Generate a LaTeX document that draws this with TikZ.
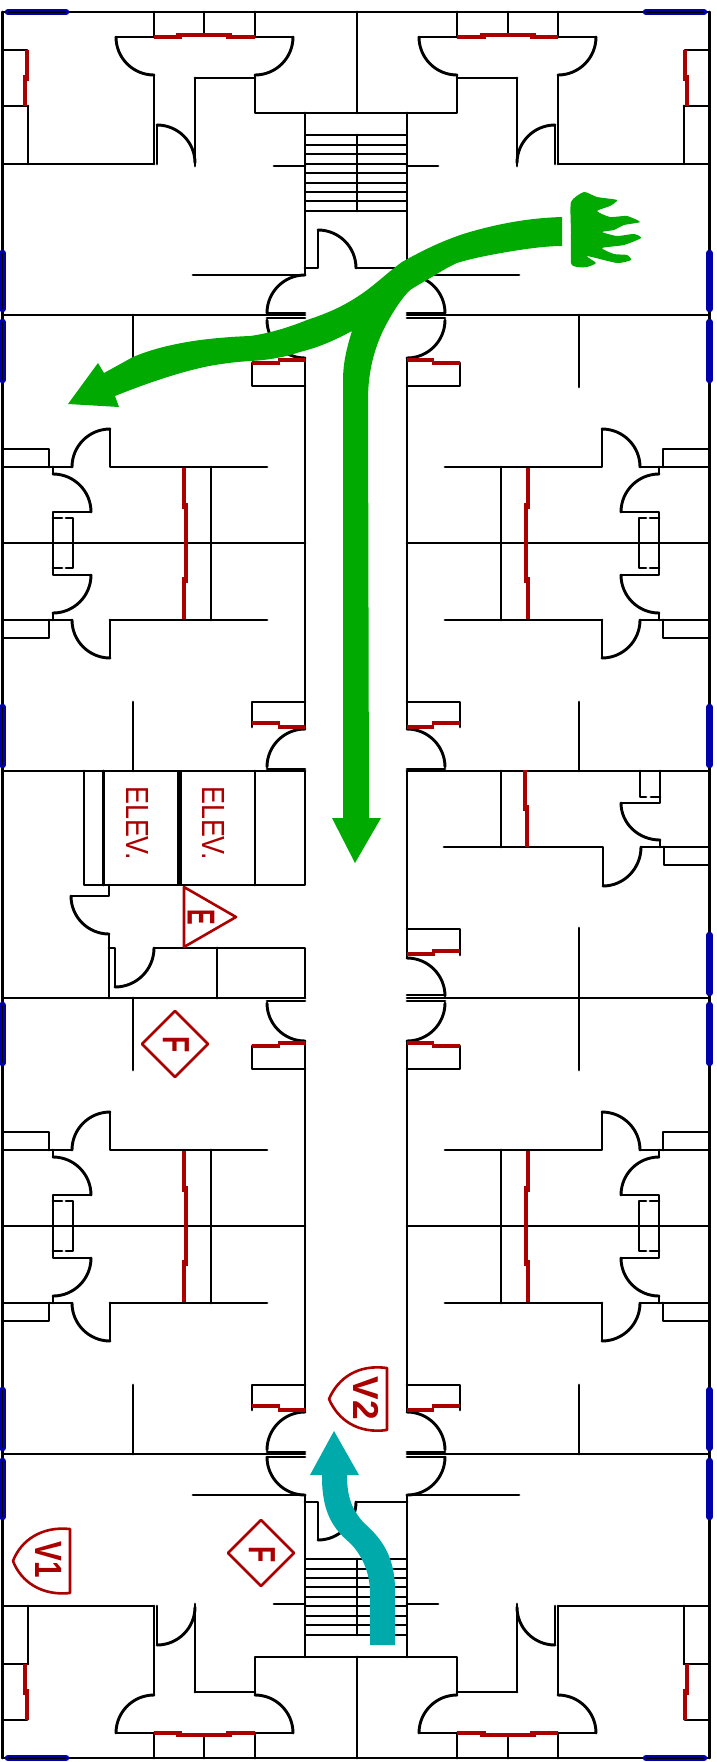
\documentclass[tikz,border=0pt]{standalone}
\usepackage{graphicx}
\usepackage{fontspec}
\setmainfont{Liberation Sans}
\usetikzlibrary{calc}
\definecolor{signred}{RGB}{170,0,0}
\definecolor{winblue}{RGB}{0,0,170}
\definecolor{exitgreen}{RGB}{0,170,0}
\definecolor{teal2}{RGB}{0,170,170}
\tikzset{
  wall/.style={draw=black,line width=2.9pt,line cap=round,line join=round},
  thickwall/.style={draw=black,line width=4.5pt},
  redline/.style={draw=signred,line width=3.4pt},
  window/.style={draw=winblue,line width=6.5pt,line cap=round},
  windowcore/.style={draw=black,line width=1.6pt},
  signline/.style={draw=signred,line width=2.6pt,line join=round},
  signtext/.style={text=signred,inner sep=0pt,rotate=-90},
  xmirror/.style={shift={(712,0)},xscale=-1},
  ymirror/.style={shift={(0,1770)},yscale=-1},
}
\newcommand\qa[3]{\draw[wall] (#1) .. controls ($(#1)!.552!(#2)$) and ($(#3)!.552!(#2)$) .. (#3);}
\newcommand\win[2]{\draw[window] (#1) -- (#2);\draw[windowcore] (#1) -- (#2);}
% corner unit: left half, mirrored to the other three corners
\newcommand\unitHalf{
  \draw[wall] (2.5,12) -- (356,12);
  \draw[wall] (2.5,12) -- (2.5,315);
  \draw[wall] (154,12) -- (154,37);
  \draw[wall] (204,12) -- (204,35);
  \draw[wall] (255,12) -- (255,37);
  \draw[wall] (116,37) -- (154,37);
  \draw[wall] (255,37) -- (293,37);
  \qa{116,37}{116,75}{154,75}
  \qa{293,37}{293,75}{255,75}
  \draw[wall] (154,75) -- (154,164);
  \draw[wall] (255,75) -- (255,113) -- (356,113);
  \draw[wall] (195,78) -- (255,78);
  \draw[wall] (195,78) -- (195,166);
  \draw[wall] (157,125) -- (157,164);
  \qa{157,125}{195,125}{195,163}
  \draw[wall] (2.5,50) -- (27,50);
  \draw[wall] (2.5,106) -- (28,106);
  \draw[wall] (28,106) -- (28,164);
  \draw[wall] (2.5,164) -- (154,164);
  \draw[wall] (305,113) -- (305,275);
  \draw[wall] (193,275) -- (305,275);
  \draw[wall] (274,166) -- (305,166);
  \qa{305,275}{267,275}{267,313}
  \draw[wall] (267,313) -- (305,313);
  \draw[redline] (154,37) -- (182,37);
  \draw[redline] (176,35) -- (232,35);
  \draw[redline] (226,37) -- (255,37);
  \draw[redline] (27,50) -- (27,81);
  \draw[redline] (25,75) -- (25,106);
  \win{8,12}{66,12}
  \win{2.5,253}{2.5,309}
}
% stairs and centre walls, once per end
\newcommand\stairs{
  \draw[wall] (357,12) -- (357,113);
  \draw[wall] (305,268) -- (318,268) -- (318,230);
  \qa{318,230}{356,230}{356,268}
  \draw[wall] (356,268) -- (407,268);
  \foreach \yy in {135,145,154,164,173,183,192,201,211}{\draw[wall] (306,\yy) -- (406,\yy);}
  \draw[wall] (357,135) -- (357,211);
}
% guest-room bay: left half
\newcommand\roomHalf{
  \draw[wall] (2.5,315) -- (2.5,771);
  \draw[wall] (2.5,315) -- (305,315);
  \draw[wall] (2.5,771) -- (305,771);
  \qa{267,320}{267,358}{305,358}
  \draw[wall] (267,318) -- (305,318);
  \draw[wall] (305,358) -- (305,729);
  \draw[wall] (252,363) -- (252,386) -- (305,386);
  \draw[wall] (252,727) -- (252,702) -- (305,702);
  \qa{305,729}{267,729}{267,767}
  \draw[wall] (267,769) -- (305,769);
  \draw[wall] (133,315) -- (133,387);
  \draw[wall] (133,702) -- (133,771);
  \draw[wall] (2.5,449) -- (49,449) -- (49,467);
  \draw[wall] (2.5,467) -- (72,467);
  \qa{72,467}{72,429}{110,429}
  \draw[wall] (110,429) -- (110,467) -- (267,467);
  \draw[wall] (211,467) -- (211,620);
  \draw[wall] (110,620) -- (267,620);
  \draw[wall] (2.5,620) -- (72,620);
  \draw[wall] (49,620) -- (49,638) -- (2.5,638);
  \qa{72,620}{72,658}{110,658}
  \draw[wall] (110,620) -- (110,658);
  \draw[wall] (2.5,543) -- (305,543);
  \draw[wall] (53,467) -- (53,474);
  \qa{53,474}{91,474}{91,512}
  \draw[wall] (91,512) -- (53,512) -- (53,575) -- (91,575);
  \qa{91,575}{91,613}{53,613}
  \draw[wall] (53,613) -- (53,620);
  \draw[wall] (53,518) -- (62,518);
  \draw[wall] (66,518) -- (73,518) -- (73,568) -- (66,568);
  \draw[wall] (53,568) -- (62,568);
  \draw[redline] (252,363) -- (280,363);
  \draw[redline] (278,360) -- (305,360);
  \draw[redline] (252,723) -- (280,723);
  \draw[redline] (278,727) -- (305,727);
  \draw[redline] (184,468) -- (184,509);
  \draw[redline] (186,503) -- (186,583);
  \draw[redline] (184,577) -- (184,619);
  \win{2.5,322}{2.5,380}
  \win{2.5,707}{2.5,765}
}
\begin{document}
\begin{tikzpicture}[x=1pt,y=-1pt]
\useasboundingbox (0,0) rectangle (717,1762);
\fill[white] (0,0) rectangle (717,1762);
% four corner units
\unitHalf
\begin{scope}[xmirror]\unitHalf\end{scope}
\begin{scope}[ymirror]\unitHalf\end{scope}
\begin{scope}[ymirror]\begin{scope}[xmirror]\unitHalf\end{scope}\end{scope}
\stairs
\begin{scope}[ymirror]\stairs\end{scope}
% four room bays
\roomHalf
\begin{scope}[xmirror]\roomHalf\end{scope}
\begin{scope}[shift={(0,683)}]\roomHalf\end{scope}
\begin{scope}[shift={(0,683)}]\begin{scope}[xmirror]\roomHalf\end{scope}\end{scope}
% left middle section: elevators
\draw[wall] (2.5,771) -- (2.5,998);
\draw[wall] (84,771) -- (84,885) -- (305,885) -- (305,771);
\draw[wall] (103.5,771) -- (103.5,885);
\draw[thickwall] (179.5,771) -- (179.5,885);
\draw[wall] (255,771) -- (255,885);
\draw[wall] (109,885) -- (109,896) -- (71,896);
\qa{71,896}{71,934}{109,934}
\draw[wall] (109,934) -- (109,998);
\draw[wall] (109,948) -- (115,948) -- (115,987);
\qa{115,987}{154,987}{154,948}
\draw[wall] (154,948) -- (305,948) -- (305,998);
\draw[wall] (217,948) -- (217,998);
% right middle section
\draw[wall] (709.5,771) -- (709.5,998);
\win{709.5,935}{709.5,993}
\draw[wall] (407,771) -- (407,958);
\draw[wall] (579,928) -- (579,998);
\draw[wall] (407,929) -- (460,929) -- (460,955);
\qa{407,958}{445,958}{445,996}
\draw[wall] (407,995) -- (445,995);
\draw[wall] (501,771) -- (501,847);
\draw[wall] (444,847) -- (603,847) -- (603,886);
\qa{603,886}{641,886}{641,847}
\draw[wall] (641,847) -- (709.5,847);
\draw[wall] (664,847) -- (664,865) -- (709.5,865);
\draw[wall] (660,847) -- (660,840);
\qa{660,840}{621,840}{621,803}
\draw[wall] (621,803) -- (660,803) -- (660,771);
\draw[wall] (640,771) -- (640,797) -- (646,797);
\draw[wall] (651,797) -- (660,797);
\draw[redline] (525,770) -- (525,811);
\draw[redline] (527,805) -- (527,847);
\draw[redline] (407,954) -- (435,954);
\draw[redline] (432,951) -- (460,951);
% signs
\draw[signline] (184,887) -- (184,947) -- (236,917) -- cycle;
\draw[signline] (175,1011) -- (208,1044) -- (175,1077) -- (142,1044) -- cycle;
\draw[signline] (261,1520) -- (294,1553) -- (261,1586) -- (228,1553) -- cycle;
\draw[signline] (70,1529) .. controls (42,1526) and (21,1540) .. (13,1561) .. controls (21,1582) and (42,1596) .. (70,1593) -- cycle;
\draw[signline] (387,1368) .. controls (358,1364) and (338,1378) .. (329,1399) .. controls (338,1420) and (358,1434) .. (387,1430) -- cycle;
\node[signtext] (elevA) at (138,823) {\fontsize{32}{32}\selectfont\scalebox{0.84}[1]{ELEV.}};
\node[signtext] (elevB) at (214,823) {\fontsize{32}{32}\selectfont\scalebox{0.84}[1]{ELEV.}};
\node[signtext] (signE) at (201,917) {\fontsize{39}{39}\selectfont\bfseries\scalebox{0.6}[1]{E}};
\node[signtext] (signFa) at (176,1045) {\fontsize{38}{38}\selectfont\bfseries\scalebox{0.7}[1]{F}};
\node[signtext] (signFb) at (262,1555) {\fontsize{38}{38}\selectfont\bfseries\scalebox{0.7}[1]{F}};
\node[signtext] (signVa) at (48.5,1560) {\fontsize{38}{38}\selectfont\bfseries\scalebox{0.78}[1]{V1}};
\node[signtext] (signVb) at (366,1398.5) {\fontsize{36}{36}\selectfont\bfseries\scalebox{0.98}[1]{V2}};
% green escape arrows
\fill[exitgreen] (562,217) .. controls (530,218) and (503,223) .. (477,230)
  .. controls (450,237) and (425,249) .. (402,262)
  .. controls (388,272) and (373,287) .. (357,297)
  .. controls (340,308) and (325,314) .. (307,320)
  .. controls (285,329) and (265,334) .. (250,336)
  .. controls (225,337) and (205,339) .. (187,342)
  .. controls (165,346) and (150,350) .. (133,357)
  -- (104,373) -- (98,363) -- (68,404) -- (119,407) -- (115,396)
  .. controls (140,386) and (170,375) .. (200,368)
  .. controls (217,364) and (235,362) .. (250,361)
  .. controls (270,360) and (285,357) .. (300,352)
  .. controls (320,347) and (335,340) .. (352,331)
  .. controls (346,350) and (343,365) .. (343,380)
  -- (343,818) -- (332,818) -- (355,863) -- (381,818) -- (369,818) -- (368,400)
  .. controls (368,370) and (375,345) .. (387,323)
  .. controls (394,310) and (402,298) .. (410,290)
  .. controls (418,285) and (425,281) .. (432,277)
  .. controls (440,272) and (448,267) .. (457,263)
  .. controls (473,258) and (490,255) .. (507,252)
  .. controls (525,249) and (545,246) .. (562,246) -- cycle;
\fill[exitgreen] plot[smooth cycle,tension=0.35] coordinates {
  (571,202) (584,192) (597,197) (617,200) (610,206) (597,211) (610,217) (627,216)
  (640,222) (624,225) (614,230) (602,232) (617,236) (634,234) (641,238) (624,245)
  (602,248) (614,254) (627,255) (631,260) (617,263) (587,256) (596,263) (587,267)
  (577,267) (571,263) (571,232)};
% teal arrow
\fill[teal2] (334,1431) -- (359,1475) -- (347,1475)
  .. controls (347,1497) and (352,1510) .. (364,1523)
  .. controls (380,1537) and (395,1555) .. (395,1590)
  -- (395,1645) -- (370,1645) -- (370,1593)
  .. controls (370,1570) and (360,1553) .. (350,1543)
  .. controls (335,1530) and (322,1515) .. (322,1477)
  -- (322,1475) -- (310,1475) -- cycle;
\end{tikzpicture}
\end{document}
